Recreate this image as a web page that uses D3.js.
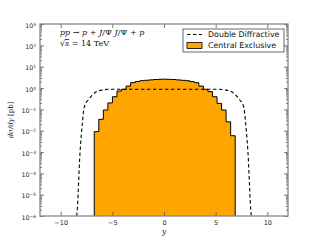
<!DOCTYPE html>
<html>
<head>
<meta charset="utf-8">
<script src="https://cdn.jsdelivr.net/npm/d3@7"></script>
<style>
  body { margin: 0; background: #fff; }
  svg { display: block; }
  .tick text { font-family: "DejaVu Sans", sans-serif; fill: #222; }
  .math { font-family: "DejaVu Serif", "Liberation Serif", serif; fill: #111; }
</style>
</head>
<body>
<script>
// central exclusive histogram: bin edges in rapidity and dsigma/dy in pb
var binEdges = [-6.75, -6.31, -5.87, -5.43, -4.99, -4.55, -4.11, -3.67, -3.23, -2.79, -2.35,
  -1.91, -1.47, -1.03, -0.59, -0.15, 0.29, 0.73, 1.17, 1.61, 2.05, 2.49, 2.93, 3.37, 3.81,
  4.25, 4.69, 5.13, 5.57, 6.01, 6.45, 6.89];
var binValues = [0.009, 0.034, 0.093, 0.20, 0.39, 0.72, 0.87, 1.23, 1.78, 2.0, 2.2, 2.3, 2.4,
  2.5, 2.55, 2.6, 2.55, 2.5, 2.4, 2.3, 2.2, 2.0, 1.78, 1.23, 0.87, 0.68, 0.39, 0.19, 0.093,
  0.026, 0.0058];

// double diffractive curve
var ddY = [-8.45, -8.42, -8.13, -7.87, -7.81, -7.65, -7.33, -6.97, -6.51, -5.9, -5.23, 0,
  5.23, 5.9, 6.51, 6.97, 7.33, 7.65, 7.81, 7.87, 8.13, 8.42, 8.45];
var ddVal = [1e-6, 1.35e-6, 8.9e-4, 0.032, 0.065, 0.16, 0.275, 0.45, 0.68, 0.81, 0.87, 0.87,
  0.87, 0.81, 0.68, 0.45, 0.275, 0.16, 0.065, 0.032, 8.9e-4, 1.35e-6, 1e-6];

var xTicks = [-10, -5, 0, 5, 10];
var yExps = [-6, -5, -4, -3, -2, -1, 0, 1, 2, 3];

var width = 320, height = 240;
var margin = { left: 40, right: 32, top: 24, bottom: 24 };
var plotW = width - margin.left - margin.right,
  plotH = height - margin.top - margin.bottom;

var svg = d3.select('body').append('svg')
  .attr('width', width)
  .attr('height', height);

var x = d3.scaleLinear().domain([-12, 12]).range([0, plotW]);
var y = d3.scaleLog().domain([1e-6, 1e3]).range([plotH, 0]);

var g = svg.append('g').attr('transform', 'translate(' + margin.left + ',' + margin.top + ')');

var defs = svg.append('defs');
defs.append('clipPath').attr('id', 'plotClip')
  .append('rect').attr('width', plotW).attr('height', plotH);

var plot = g.append('g').attr('clip-path', 'url(#plotClip)');

// histogram as a step path
var hist = [];
binValues.forEach(function (v, i) {
  hist.push([binEdges[i], v]);
  hist.push([binEdges[i + 1], v]);
});
hist.unshift([binEdges[0], 1e-6]);
hist.push([binEdges[binEdges.length - 1], 1e-6]);

var histLine = d3.line()
  .x(function (d) { return x(d[0]); })
  .y(function (d) { return y(d[1]); });

plot.append('path')
  .attr('d', histLine(hist) + 'Z')
  .attr('fill', '#ffa500')
  .attr('stroke', 'none');
plot.append('path')
  .attr('d', histLine(hist))
  .attr('fill', 'none')
  .attr('stroke', '#000')
  .attr('stroke-width', 1);

// double diffractive dashed curve
var ddLine = d3.line()
  .x(function (d, i) { return x(ddY[i]); })
  .y(function (d) { return y(d); })
  .curve(d3.curveMonotoneX);
plot.append('path')
  .attr('d', ddLine(ddVal))
  .attr('fill', 'none')
  .attr('stroke', '#000')
  .attr('stroke-width', 1.1)
  .attr('stroke-dasharray', '3.5,2.5');

// axes
var majorY = yExps.map(function (e) { return Math.pow(10, e); });
var minorY = [];
yExps.slice(0, -1).forEach(function (e) {
  for (var k = 2; k < 10; k++) minorY.push(k * Math.pow(10, e));
});

function styleAxis(sel) {
  sel.select('.domain').remove();
  sel.selectAll('line').attr('stroke', '#555').attr('stroke-width', 0.8);
}

var yAxisL = g.append('g')
  .call(d3.axisLeft(y).tickValues(majorY).tickSizeInner(-4).tickSizeOuter(0).tickPadding(4)
    .tickFormat(function () { return ''; }));
styleAxis(yAxisL);
yAxisL.selectAll('.tick text').each(function (d) {
  var t = d3.select(this).attr('font-size', 6.3).attr('dy', '0.5em');
  t.append('tspan').text('10');
  t.append('tspan').attr('dy', '-0.45em').attr('font-size', 4.4)
    .text(String(Math.round(Math.log10(d))).replace('-', '\u2212'));
});
styleAxis(g.append('g')
  .call(d3.axisLeft(y).tickValues(minorY).tickSizeInner(-2).tickSizeOuter(0).tickFormat('')));

var yAxisR = g.append('g').attr('transform', 'translate(' + plotW + ',0)')
  .call(d3.axisRight(y).tickValues(majorY).tickSizeInner(-4).tickSizeOuter(0).tickFormat(''));
styleAxis(yAxisR);
styleAxis(g.append('g').attr('transform', 'translate(' + plotW + ',0)')
  .call(d3.axisRight(y).tickValues(minorY).tickSizeInner(-2).tickSizeOuter(0).tickFormat('')));

var xAxisB = g.append('g').attr('transform', 'translate(0,' + plotH + ')')
  .call(d3.axisBottom(x).tickValues(xTicks).tickSizeInner(-4).tickSizeOuter(0).tickPadding(4)
    .tickFormat(function (d) { return String(d).replace('-', '\u2212'); }));
styleAxis(xAxisB);
xAxisB.selectAll('.tick text').attr('font-size', 6.5);

styleAxis(g.append('g')
  .call(d3.axisTop(x).tickValues(xTicks).tickSizeInner(-4).tickSizeOuter(0).tickFormat('')));

// frame
g.append('rect')
  .attr('width', plotW).attr('height', plotH)
  .attr('fill', 'none').attr('stroke', '#888').attr('stroke-width', 1.3);

// axis labels
svg.append('text').attr('class', 'math')
  .attr('transform', 'translate(13,' + (margin.top + plotH / 2) + ') rotate(-90)')
  .attr('text-anchor', 'middle').attr('font-size', 7)
  .html('<tspan font-style="italic">d\u03c3/dy</tspan> [pb]');
svg.append('text').attr('class', 'math')
  .attr('x', margin.left + x(0)).attr('y', 234)
  .attr('text-anchor', 'middle').attr('font-size', 7.5).attr('font-style', 'italic')
  .text('y');

// process annotation
var ann = g.append('text').attr('class', 'math').attr('font-size', 8)
  .attr('x', 20).attr('y', 11);
ann.append('tspan').attr('font-style', 'italic').text('pp');
ann.append('tspan').text(' \u2192 ');
ann.append('tspan').attr('font-style', 'italic').text('p');
ann.append('tspan').text(' + ');
ann.append('tspan').attr('font-style', 'italic').text('J');
ann.append('tspan').text('/\u03a8');
ann.append('tspan').attr('font-style', 'italic').text(' J');
ann.append('tspan').text('/\u03a8 + ');
ann.append('tspan').attr('font-style', 'italic').text('p');

var ann2 = g.append('text').attr('class', 'math').attr('font-size', 8)
  .attr('x', 20).attr('y', 22);
ann2.append('tspan').text('\u221a');
ann2.append('tspan').attr('font-style', 'italic').attr('text-decoration', 'overline').text('s');
ann2.append('tspan').text(' = 14 TeV');

// legend
var legend = svg.append('g').attr('transform', 'translate(183,29)');
legend.append('rect')
  .attr('width', 101).attr('height', 23)
  .attr('fill', '#fff').attr('stroke', '#444').attr('stroke-width', 0.8);
legend.append('line')
  .attr('x1', 4).attr('x2', 19).attr('y1', 5.5).attr('y2', 5.5)
  .attr('stroke', '#000').attr('stroke-width', 1.1).attr('stroke-dasharray', '3.5,2.5');
legend.append('rect')
  .attr('x', 4).attr('y', 13.5).attr('width', 15).attr('height', 6)
  .attr('fill', '#ffa500').attr('stroke', '#000').attr('stroke-width', 0.8);
legend.append('text').attr('x', 25).attr('y', 8.3)
  .attr('font-family', '"DejaVu Sans", sans-serif').attr('font-size', 7.9).attr('fill', '#111')
  .text('Double Diffractive');
legend.append('text').attr('x', 25).attr('y', 19.3)
  .attr('font-family', '"DejaVu Sans", sans-serif').attr('font-size', 7.9).attr('fill', '#111')
  .text('Central Exclusive');
</script>
</body>
</html>
